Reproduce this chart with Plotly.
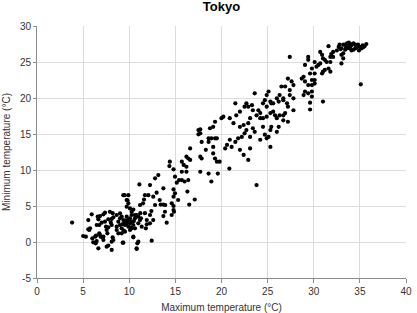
import plotly.graph_objects as go

# Daily maximum / minimum temperature in Tokyo (°C)
tmax = [
    3.8, 5.0, 5.3, 5.56, 5.67, 5.75, 5.93, 6.47, 6.3, 6.0, 6.1, 6.47, 6.36, 6.75, 6.9, 7.2, 7.2, 6.65,
    6.83, 7.2, 6.65, 6.75, 7.37, 7.48, 7.55, 7.63, 7.37, 7.9, 8.2, 8.28, 7.73, 8.0, 8.1, 8.28, 8.1, 8.2,
    7.55, 8.1, 6.58, 7.0, 7.73, 6.4, 6.83, 7.12, 7.73, 5.56, 8.1,
    8.64, 9.0, 9.18, 9.36, 9.54, 8.82, 9.0, 8.64, 9.18, 9.54, 9.72, 9.9, 9.72, 10.08, 10.26, 10.08, 9.9,
    10.08, 9.54, 9.18, 8.82, 8.64, 10.26, 10.44, 10.62, 10.8, 10.98, 11.17, 10.98, 10.62, 10.26,
    9.3, 9.7, 10.2, 9.4, 10.5, 9.0,
    9.29, 10.8, 10.44, 10.98, 9.36, 10.88, 10.8, 10.44, 11.35, 11.9, 11.8, 12.43,
    9.36, 9.9, 9.72, 9.9, 10.08, 9.72, 9.5, 9.8, 10.44, 10.27, 10.6,
    11.7, 12.07, 11.6, 11.5, 12.6, 12.8, 13.4, 13.7, 13.9, 14.8, 14.85, 13.7, 12.4, 12.25, 12.6, 11.7,
    11.9, 11.2, 11.27, 14.06, 13.7, 12.97, 14.8, 14.96, 14.8, 16.3, 17.1, 16.5, 11.1, 12.25,
    12.25, 13.87, 14.6, 14.8, 15.3, 14.6, 13.3, 11.17,
    14.4, 14.35, 14.8, 13.15, 12.8, 14.96, 15.4, 15.15,
    21.5, 21.6, 20.2, 20.0, 20.9, 21.3, 19.3, 19.1, 18.75, 17.7, 17.5, 21.8, 21.5, 20.9, 20.6, 20.4,
    21.1, 19.3, 19.1, 18.6, 18.3, 17.85, 16.6, 20.85, 19.1, 19.3, 19.5, 19.8, 17.7, 17.85, 16.2, 16.4,
    16.6, 15.7, 15.9, 16.2, 15.7, 16.2, 16.4, 16.0, 15.7, 17.7, 18.6, 19.6, 18.9, 22.0, 18.6, 18.9,
    19.5, 17.5, 17.7, 23.8, 22.9, 22.4,
    27.2, 27.6, 27.8, 26.9, 26.5, 27.4, 27.4, 27.8, 26.3, 26.0, 26.7, 25.6, 26.2, 26.7, 27.1, 27.2,
    27.8, 25.1, 24.9, 25.3, 25.4, 23.6, 24.7, 24.5, 24.9, 22.7, 22.5, 22.9, 23.3, 23.4, 24.0, 24.2,
    23.8, 24.2, 24.5, 24.9, 25.3, 25.6, 25.8, 26.0, 26.3, 26.7, 26.9, 27.2, 26.7, 23.1, 22.9, 22.4,
    22.0, 22.7, 23.4, 22.5, 22.2, 23.1, 23.6, 24.5, 24.7, 25.1, 25.4, 26.2, 25.3, 24.2, 24.9, 25.3,
    26.0, 23.1, 22.0, 27.4,
    29.8, 29.6, 29.6, 31.0,
    32.7, 32.8, 33.0, 33.2, 33.4, 33.6, 33.8, 33.9, 34.1, 34.3, 34.5, 34.7, 34.8, 35.0, 35.2, 35.4,
    35.7, 33.9, 34.3, 34.5, 34.1, 33.6, 33.4, 33.2, 31.6, 32.5, 32.1, 31.9, 31.8, 32.1, 33.0, 33.2,
    33.0, 30.7, 30.9, 31.0, 31.2, 31.4, 31.8, 29.4, 29.4, 30.1, 30.5, 30.7, 29.05, 29.8, 30.3, 31.2,
    31.6, 31.8, 31.0, 30.9, 30.1, 29.6, 28.9, 29.05, 29.8, 30.1, 30.1, 29.4, 29.8, 29.8, 29.4, 29.05,
    28.9, 35.1, 28.7,
    34.0, 34.6, 35.3, 33.5, 32.9, 35.5, 34.9, 33.7,
]
tmin = [
    2.7, 0.83, 0.74, 3.05, 1.67, 1.9, 3.84, 2.36, 0.74, 0.5, -0.05, 0.14, -0.18, 1.2, 0.74, 0.74, 0.28, -0.88,
    3.6, 3.84, 3.15, 2.36, 2.82, 2.13, 1.67, 1.2, 4.07, 4.2, 4.0, 3.43, 3.15, 2.68, 2.36, 0.28, 0.05, 0.65,
    -0.65, -1.1, 3.52, 2.68, 2.04, 0.88, 0.97, 0.6, -0.5, 1.76, 3.2,
    3.75, 3.98, 3.52, 3.05, 2.82, 2.82, 2.36, 2.13, 1.9, 2.36, 2.6, 3.05, 3.52, 3.29, 3.75, 2.6, 2.13,
    1.67, 1.43, 1.2, 1.2, 1.67, 2.82, 2.36, 3.29, 3.75, 3.52, 3.05, 2.6, 1.9, 1.9,
    2.5, 3.0, 2.0, 1.6, 2.9, 3.3,
    -0.09, -0.97, 0.74, 0.05, -0.09, -0.18, -0.88, 0.65, 2.13, 2.46, 1.9, 0.18,
    6.5, 6.5, 5.83, 5.37, 4.67, 4.9, 6.5, 5.8, 4.5, 4.2, 3.75,
    6.5, 6.5, 5.9, 5.37, 6.3, 5.14, 5.2, 5.2, 5.14, 5.0, 4.2, 3.6, 4.3, 3.75, 3.05, 4.0,
    3.05, 4.0, 3.3, 2.68, 7.45, 6.85, 7.3, 6.76, 6.3, 7.0, 5.9, 5.2, 8.0, 7.9,
    2.6, 4.2, 3.75, 4.44, 5.83, 5.37, 5.83, 5.14,
    11.15, 10.55, 10.1, 9.3, 8.85, 9.07, 8.6, 8.24,
    19.26, 17.6, 17.4, 17.2, 17.2, 16.5, 16.7, 16.0, 15.8, 15.65, 14.95, 14.4, 13.9, 14.2, 13.5, 13.0,
    13.2, 14.4, 13.2, 13.9, 12.8, 13.9, 13.0, 10.2, 12.3, 11.6, 11.15, 11.15, 11.85, 11.6, 11.85, 11.6,
    11.4, 11.15, 10.7, 10.45, 9.76, 9.76, 8.6, 8.4, 8.6, 9.76, 9.5, 9.5, 8.4, 18.1, 14.4, 14.4,
    14.4, 15.55, 15.1, 7.9, 11.4, 12.1,
    22.7, 22.3, 21.8, 21.6, 21.6, 21.1, 20.4, 19.95, 20.4, 19.95, 19.95, 19.26, 19.5, 19.7, 19.26, 18.8,
    18.3, 20.9, 20.4, 19.5, 19.26, 20.65, 19.7, 19.26, 18.8, 19.26, 18.8, 18.8, 19.0, 18.3, 18.3, 17.9,
    17.6, 17.2, 17.2, 17.4, 17.9, 18.1, 17.6, 17.2, 17.6, 17.6, 17.9, 16.7, 16.9, 17.2, 16.5, 16.25,
    16.0, 15.55, 15.8, 15.1, 14.6, 14.6, 15.3, 16.0, 14.9, 14.6, 16.0, 16.0, 15.55, 14.2, 14.4, 13.2,
    15.3, 13.0, 12.8, 25.7,
    20.2, 19.35, 18.4, 19.5,
    27.1, 27.4, 26.9, 27.4, 27.4, 27.6, 27.7, 27.5, 27.4, 27.6, 27.4, 27.1, 27.4, 27.1, 26.9, 27.1,
    27.5, 26.9, 26.7, 26.9, 26.6, 26.9, 26.7, 26.2, 27.2, 26.6, 26.4, 26.1, 25.7, 25.7, 26.0, 25.5,
    24.8, 26.4, 26.0, 25.5, 25.3, 25.0, 25.0, 25.7, 25.3, 25.0, 24.6, 24.8, 24.6, 24.1, 24.35, 23.9,
    24.1, 23.65, 23.65, 23.4, 23.4, 23.4, 22.95, 22.3, 22.5, 22.5, 22.0, 21.8, 21.8, 20.9, 20.65, 20.9,
    20.4, 21.9, 22.7,
    27.2, 27.0, 27.3, 27.0, 26.8, 27.2, 26.6, 27.3,
]

x_ticks = [0, 5, 10, 15, 20, 25, 30, 35, 40]
y_ticks = [-5, 0, 5, 10, 15, 20, 25, 30]

fig = go.Figure(go.Scatter(
    x=tmax, y=tmin, mode="markers",
    marker=dict(color="#000000", size=4.2, line=dict(width=0)),
    hoverinfo="skip", showlegend=False,
))

font = "Liberation Sans, Arial, sans-serif"
fig.update_layout(
    width=417, height=313,
    margin=dict(l=37, r=11, t=26, b=35),
    paper_bgcolor="white", plot_bgcolor="white",
    title=dict(text="<b>Tokyo</b>", x=0.531, xanchor="center", y=0.995, yanchor="top",
               font=dict(family=font, size=13, color="#000000")),
    font=dict(family=font, size=10, color="#333333"),
)
fig.update_xaxes(
    range=[0, 40], tickvals=x_ticks, ticktext=[str(v) for v in x_ticks],
    showgrid=True, gridcolor="#dcdcdc", gridwidth=1,
    showline=True, linecolor="#8c8c8c", linewidth=1,
    ticks="outside", ticklen=4, tickcolor="#8c8c8c",
    zeroline=False, fixedrange=True, automargin=False,
    title=dict(text="Maximum temperature (°C)", standoff=8,
               font=dict(family=font, size=10, color="#333333")),
    tickfont=dict(family=font, size=10, color="#333333"),
)
fig.update_yaxes(
    range=[-5, 30], tickvals=y_ticks, ticktext=[str(v) for v in y_ticks],
    showgrid=True, gridcolor="#dcdcdc", gridwidth=1,
    showline=True, linecolor="#8c8c8c", linewidth=1,
    ticks="outside", ticklen=3, tickcolor="#8c8c8c",
    zeroline=False, fixedrange=True, automargin=False,
    title=dict(text="Minimum temperature (°C)", standoff=7,
               font=dict(family=font, size=10, color="#333333")),
    tickfont=dict(family=font, size=10, color="#333333"),
)

fig.write_html("out.html", config={"displayModeBar": False})
